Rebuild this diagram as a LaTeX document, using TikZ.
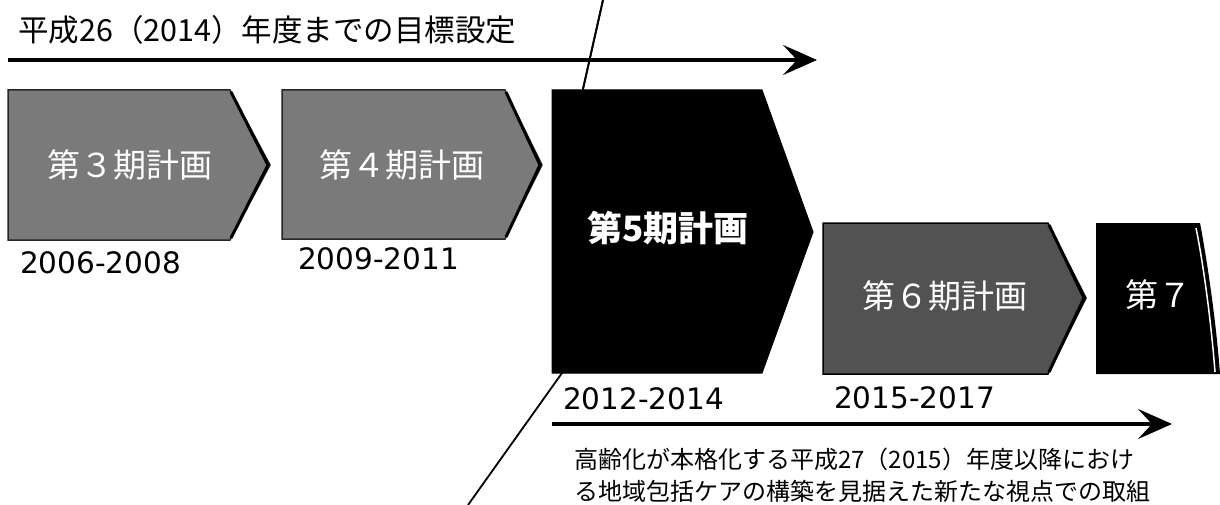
\documentclass[tikz,border=0pt]{standalone}
\usepackage{fontspec}
\setmainfont{DejaVu Sans}
\newfontfamily\jp{Noto Sans CJK JP}
\usetikzlibrary{arrows.meta}
\begin{document}
\begin{tikzpicture}[x=1pt,y=-1pt,
  chevgray/.style={fill=black!52, draw=black!85, line width=1.5pt},
  chevdark/.style={fill=black!68, draw=black, line width=1.5pt},
  chevblack/.style={fill=black, draw=black, line width=1pt},
  edgeshade/.style={draw=black, line width=3pt, line join=miter},
  ctext/.style={text=white, font=\jp\fontsize{33}{33}\selectfont, inner sep=0pt},
  year/.style={font=\fontsize{29.5}{29.5}\selectfont, anchor=west, inner sep=0pt},
  jtext/.style={font=\jp\fontsize{24}{24}\selectfont, anchor=west, inner sep=0pt},
  bigarrow/.style={line width=4pt, -{Stealth[length=34pt,width=30pt,inset=14pt]}},
  slash/.style={line width=1.8pt}
]
\useasboundingbox (0,0) rectangle (1220,505);
\fill[white] (0,0) rectangle (1220,505);

% diagonal line (partly hidden behind plan 5)
\coordinate (s1) at (603,0);
\coordinate (s2) at (583,89);
\coordinate (s3) at (562,373);
\coordinate (s4) at (468,505);
\draw[slash] (s1) -- (s2) -- (s3) -- (s4);

% top title and arrow
\node[font=\jp\fontsize{30.5}{30.5}\selectfont, anchor=west, inner sep=0pt] (title) at (18,30) {平成26（2014）年度までの目標設定};
\coordinate (ta) at (8,60);
\coordinate (tb) at (817,60);
\draw[bigarrow] (ta) -- (tb);

% chevrons
\draw[chevgray] (8,90) -- (230,90) -- (270,165) -- (230,240) -- (8,240) -- cycle;
\draw[edgeshade] (231,92) -- (268,165) -- (231,238);
\draw[chevgray] (282,90) -- (505,90) -- (542,165) -- (505,239) -- (282,239) -- cycle;
\draw[edgeshade] (506,92) -- (540,165) -- (506,237);
\draw[chevblack] (552,90) -- (762,90) -- (813,232) -- (762,373) -- (552,373) -- cycle;
\draw[chevdark] (823,223) -- (1048,223) -- (1086,298) -- (1048,374) -- (823,374) -- cycle;
\draw[edgeshade] (1049,225) -- (1084,298) -- (1049,372);
\fill[black] (1096,223) -- (1200,223) .. controls (1207,260) and (1216,320) .. (1220,374) -- (1096,374) -- cycle;
\draw[white, line width=1.5pt] (1196,228) .. controls (1203,262) and (1211,320) .. (1215,372);
\draw[slash] (s2) -- (s1);

\node[ctext] (p3) at (130,165) {第３期計画};
\node[ctext] (p4) at (402,165) {第４期計画};
\node[ctext, font=\jp\bfseries\fontsize{35}{35}\selectfont] (p5) at (668,228) {第5期計画};
\node[ctext] (p6) at (945,296) {第６期計画};
\node[ctext] (p7) at (1158,295) {第７};

% years
\node[year] (y3) at (20,263) {2006-2008};
\node[year] (y4) at (298,259) {2009-2011};
\node[year] (y5) at (563,399) {2012-2014};
\node[year] (y6) at (834,398) {2015-2017};

% bottom arrow and text
\coordinate (ba) at (552,424);
\coordinate (bb) at (1172,424);
\draw[bigarrow] (ba) -- (bb);
\node[jtext] (n1) at (574,459) {高齢化が本格化する平成27（2015）年度以降におけ};
\node[jtext] (n2) at (574,491) {る地域包括ケアの構築を見据えた新たな視点での取組};
\end{tikzpicture}
\end{document}
